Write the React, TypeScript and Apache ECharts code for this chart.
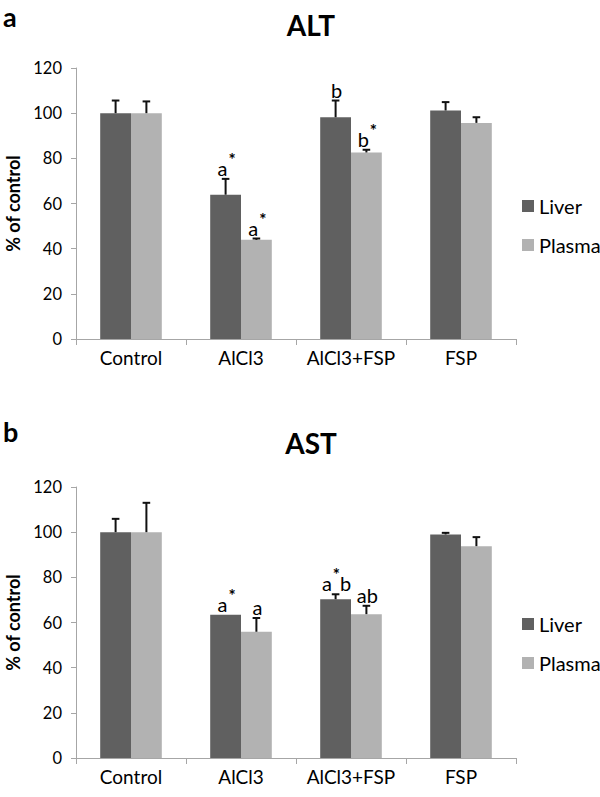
import React, { useEffect, useRef } from 'react';
import * as echarts from 'echarts';

const categories = ['Control', 'AlCl3', 'AlCl3+FSP', 'FSP'];
const seriesNames = ['Liver', 'Plasma'];
const yMin = 0;
const yMax = 120;
const yStep = 20;

// ALT (panel a)
const altLiver = [100, 63.9, 98.2, 101.2];
const altLiverErr = [5.6, 7.0, 7.4, 3.7];
const altPlasma = [100, 43.9, 82.6, 95.7];
const altPlasmaErr = [5.2, 0.6, 1.2, 2.5];
const altLiverSig = ['', 'a*', 'b', ''];
const altPlasmaSig = ['', 'a*', 'b*', ''];

// AST (panel b)
const astLiver = [100, 63.4, 70.3, 99.0];
const astLiverErr = [5.9, 0, 2.2, 0.7];
const astPlasma = [100, 55.9, 63.7, 93.8];
const astPlasmaErr = [13.0, 6.1, 3.7, 4.0];
const astLiverSig = ['', 'a*', 'a*b', ''];
const astPlasmaSig = ['', 'a', 'ab', ''];

const FONT = 'Lato';
const LIVER_COLOR = '#606060';
const PLASMA_COLOR = '#b2b2b2';
const AXIS_COLOR = '#a6a6a6';

function toRich(s: string): string {
  return s
    .split('')
    .map((c) => (c === '*' ? '{s|*}' : '{l|' + c + '}'))
    .join('');
}

function makeRender(sign: number, sigs: string[]) {
  return (params: any, api: any) => {
    const i = api.value(0);
    const mean = api.value(1);
    const top = api.value(2);
    const base = api.coord([i, mean]);
    const tp = api.coord([i, top]);
    const band = api.size([1, 0])[0];
    const x = base[0] + sign * band * 0.14;
    const children: any[] = [];
    if (top > mean) {
      children.push({
        type: 'line',
        shape: { x1: x, y1: base[1], x2: x, y2: tp[1] },
        style: { stroke: '#111', lineWidth: 2 },
      });
      children.push({
        type: 'line',
        shape: { x1: x - 3.8, y1: tp[1], x2: x + 3.8, y2: tp[1] },
        style: { stroke: '#111', lineWidth: 2 },
      });
    }
    const s = sigs[params.dataIndex];
    if (s) {
      children.push({
        type: 'text',
        x: x + 1,
        y: tp[1] - 1,
        style: {
          text: toRich(s),
          align: 'center',
          verticalAlign: 'bottom',
          fill: '#000',
          rich: {
            l: { fontFamily: FONT, fontSize: 20, lineHeight: 20, verticalAlign: 'bottom', fill: '#000' },
            s: { fontFamily: FONT, fontSize: 17, fontWeight: 'bold', lineHeight: 16, verticalAlign: 'bottom', padding: [0, 0, 10, 1], fill: '#000' },
          },
        },
      });
    }
    return { type: 'group', children };
  };
}

function errData(vals: number[], errs: number[]) {
  return vals.map((v, i) => [i, v, v + errs[i]]);
}

export default function App() {
  const ref = useRef<HTMLDivElement>(null);
  useEffect(() => {
    if (!ref.current) return;
    const chart = echarts.init(ref.current, null, { renderer: 'svg' });
    const grids = [
      { left: 76, top: 68, width: 440, height: 271 },
      { left: 76, top: 487, width: 440, height: 271 },
    ];
    const xAxes = [0, 1].map((g) => ({
      type: 'category',
      gridIndex: g,
      data: categories,
      axisLine: { show: true, lineStyle: { color: AXIS_COLOR, width: 1 } },
      axisTick: { show: true, length: 6, lineStyle: { color: AXIS_COLOR } },
      axisLabel: { interval: 0, fontFamily: FONT, fontSize: 19, color: '#000', margin: 9 },
    }));
    const yAxes = [0, 1].map((g) => ({
      type: 'value',
      gridIndex: g,
      min: yMin,
      max: yMax,
      interval: yStep,
      axisLine: { show: true, lineStyle: { color: AXIS_COLOR, width: 1 } },
      axisTick: { show: true, length: 5, lineStyle: { color: AXIS_COLOR } },
      axisLabel: { fontFamily: FONT, fontSize: 16.5, color: '#000', margin: 14 },
      splitLine: { show: false },
    }));
    const panels = [
      { liver: altLiver, liverErr: altLiverErr, plasma: altPlasma, plasmaErr: altPlasmaErr, ls: altLiverSig, ps: altPlasmaSig },
      { liver: astLiver, liverErr: astLiverErr, plasma: astPlasma, plasmaErr: astPlasmaErr, ls: astLiverSig, ps: astPlasmaSig },
    ];
    const series: any[] = [];
    panels.forEach((p, g) => {
      series.push({
        type: 'bar',
        name: seriesNames[0],
        xAxisIndex: g,
        yAxisIndex: g,
        data: p.liver,
        barGap: '0%',
        barCategoryGap: '44%',
        itemStyle: { color: LIVER_COLOR },
      });
      series.push({
        type: 'bar',
        name: seriesNames[1],
        xAxisIndex: g,
        yAxisIndex: g,
        data: p.plasma,
        barGap: '0%',
        barCategoryGap: '44%',
        itemStyle: { color: PLASMA_COLOR },
      });
      series.push({
        type: 'custom',
        name: 'err-liver-' + g,
        xAxisIndex: g,
        yAxisIndex: g,
        z: 5,
        data: errData(p.liver, p.liverErr),
        renderItem: makeRender(-1, p.ls),
        encode: { x: 0, y: 1 },
      });
      series.push({
        type: 'custom',
        name: 'err-plasma-' + g,
        xAxisIndex: g,
        yAxisIndex: g,
        z: 5,
        data: errData(p.plasma, p.plasmaErr),
        renderItem: makeRender(1, p.ps),
        encode: { x: 0, y: 1 },
      });
    });
    const legendBase = {
      orient: 'vertical',
      left: 517,
      icon: 'rect',
      itemWidth: 12,
      itemHeight: 12,
      itemGap: 19,
      data: seriesNames,
      selectedMode: false,
      textStyle: { fontFamily: FONT, fontSize: 20, color: '#000', lineHeight: 20 },
    };
    const option: any = {
      animation: false,
      backgroundColor: '#fff',
      grid: grids,
      xAxis: xAxes,
      yAxis: yAxes,
      legend: [
        { ...legendBase, top: 191 },
        { ...legendBase, top: 609 },
      ],
      series,
      graphic: [
        { type: 'text', x: 3, y: 16, style: { text: 'a', fontFamily: FONT, fontWeight: 'bold', fontSize: 27, fill: '#000', verticalAlign: 'middle' } },
        { type: 'text', x: 311, y: 25, style: { text: 'ALT', fontFamily: FONT, fontWeight: 'bold', fontSize: 28, fill: '#000', align: 'center', verticalAlign: 'middle' } },
        { type: 'text', x: 3, y: 431, style: { text: 'b', fontFamily: FONT, fontWeight: 'bold', fontSize: 27, fill: '#000', verticalAlign: 'middle' } },
        { type: 'text', x: 311, y: 443, style: { text: 'AST', fontFamily: FONT, fontWeight: 'bold', fontSize: 28, fill: '#000', align: 'center', verticalAlign: 'middle' } },
        { type: 'text', x: 13, y: 203.5, rotation: Math.PI / 2, style: { text: '% of control', fontFamily: FONT, fontWeight: 'bold', fontSize: 18, fill: '#000', align: 'center', verticalAlign: 'middle' } },
        { type: 'text', x: 13, y: 622.5, rotation: Math.PI / 2, style: { text: '% of control', fontFamily: FONT, fontWeight: 'bold', fontSize: 18, fill: '#000', align: 'center', verticalAlign: 'middle' } },
      ],
    };
    chart.setOption(option);
    return () => chart.dispose();
  }, []);
  return (
    <div
      ref={ref}
      style={{ position: 'absolute', left: 0, top: 0, width: 600, height: 797, background: '#fff' }}
    />
  );
}
